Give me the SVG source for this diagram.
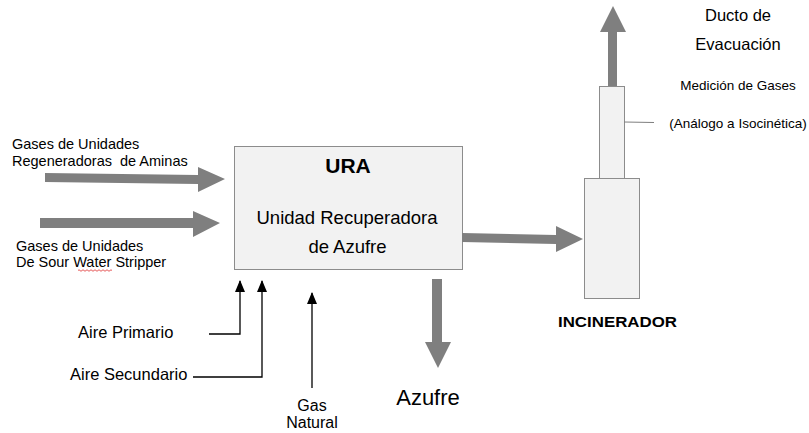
<svg xmlns="http://www.w3.org/2000/svg" width="809" height="433" viewBox="0 0 809 433">
<style>
text{font-family:"Liberation Sans",Arial,sans-serif;fill:#000}
.box{fill:#f2f2f2;stroke:#8c8c8c;stroke-width:1}
.fat{fill:#7f7f7f}
.thin{fill:none;stroke:#000;stroke-width:1.3}
.s13{font-size:14.5px}
.s14{font-size:16.5px}
.s12{font-size:13.5px}
</style>
<defs>
<marker id="ah" markerWidth="12" markerHeight="10" refX="11" refY="5" orient="auto" markerUnits="userSpaceOnUse" viewBox="0 0 12 10">
<path d="M0,0 L12,5 L0,10 Z" fill="#000"/>
</marker>
</defs>
<g id="ura">
<rect class="box" x="234.5" y="146.5" width="228" height="123"/>
<text x="348" y="173" font-size="21" font-weight="bold" text-anchor="middle">URA</text>
<text x="347" y="224" font-size="18.5" text-anchor="middle">Unidad Recuperadora</text>
<text x="347.5" y="253" font-size="18.5" text-anchor="middle">de Azufre</text>
</g>
<g id="incinerador">
<rect class="box" x="599.5" y="86.5" width="25" height="92"/>
<rect class="box" x="584.5" y="178.5" width="55" height="120"/>
<text x="558" y="327" font-size="14" font-weight="bold" textLength="119" lengthAdjust="spacingAndGlyphs">INCINERADOR</text>
</g>
<g id="labels">
<text class="s13" x="12" y="149">Gases de Unidades</text>
<text class="s13" x="12" y="166" xml:space="preserve" style="white-space:pre">Regeneradoras  de Aminas</text>
<text class="s13" x="16" y="251">Gases de Unidades</text>
<text class="s13" x="16" y="267">De Sour Water Stripper</text>
<path d="M78,270.5 q1,-1.5 2,0 t2,0 t2,0 t2,0 t2,0 t2,0 t2,0 t2,0 t2,0 t2,0 t2,0 t2,0 t2,0 t2,0 t2,0 t2,0 t2,0" fill="none" stroke="#e03030" stroke-width="0.8"/>
<text class="s14" x="78" y="338">Aire Primario</text>
<text class="s14" x="70" y="380">Aire Secundario</text>
<text x="312" y="411" font-size="16" text-anchor="middle">Gas</text>
<text x="312" y="428" font-size="16" text-anchor="middle">Natural</text>
<text x="428" y="405" font-size="22" text-anchor="middle">Azufre</text>
<text x="738" y="21" font-size="16.5" text-anchor="middle">Ducto de</text>
<text x="738" y="50" font-size="16.5" text-anchor="middle">Evacuación</text>
<text class="s12" x="738" y="90" text-anchor="middle">Medición de Gases</text>
<text class="s12" x="738" y="128" text-anchor="middle">(Análogo a Isocinética)</text>
</g>
<g id="connectors">
<polygon class="fat" points="45,173 198,175 198,167 225,179 198,192 198,184 45,182"/>
<polygon class="fat" points="40,218 193,218 193,211 220,223 193,237 193,228 40,228"/>
<polygon class="fat" points="462,233 556,235 556,226 583,239 556,252 556,244 462,242"/>
<polygon class="fat" points="432,279 442,279 442,342 451,342 438,368 425,342 432,342"/>
<polygon class="fat" points="608,86 617,86 617,32 626,32 613,6 600,32 608,32"/>
<polyline class="thin" points="209,334 240,334 240,281" marker-end="url(#ah)"/>
<polyline class="thin" points="193,377 262,377 262,281" marker-end="url(#ah)"/>
<line class="thin" x1="312" y1="388" x2="312" y2="293" marker-end="url(#ah)"/>
<line x1="624" y1="122" x2="654" y2="122.5" stroke="#7f7f7f" stroke-width="1.2"/>
</g>
</svg>
